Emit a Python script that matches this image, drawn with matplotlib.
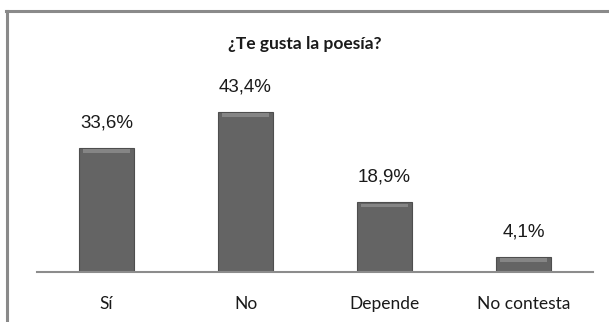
import matplotlib.pyplot as plt
from matplotlib.lines import Line2D

categorias = ["Sí", "No", "Depende", "No contesta"]
porcentajes = [33.6, 43.4, 18.9, 4.1]
etiquetas = ["33,6%", "43,4%", "18,9%", "4,1%"]

W, H = 609, 322
fig = plt.figure(figsize=(W / 100, H / 100), dpi=100)
fig.patch.set_facecolor("white")

# marco gris (solo arriba e izquierda visibles en el recorte)
fig.add_artist(Line2D([6 / W, 1], [1 - 10.5 / H] * 2, color="#8a8a8a", lw=2.2))
fig.add_artist(Line2D([7 / W] * 2, [0, 1 - 10.5 / H], color="#8a8a8a", lw=2.2))

ax = fig.add_axes([37 / W, 50 / H, 556 / W, 212 / H])
x = range(len(categorias))
ax.bar(x, porcentajes, width=0.4, color="#646464", edgecolor="#4e4e4e", lw=0.8, zorder=2)
# bisel claro en la parte superior de cada barra
ax.bar(x, [1.0] * len(x), bottom=[p - 1.4 for p in porcentajes], width=0.34,
       color="#858585", lw=0, zorder=3)

ax.set_xlim(-0.5, len(categorias) - 0.5)
ax.set_ylim(0, 212 / 3.69)
for s in ["top", "right", "left"]:
    ax.spines[s].set_visible(False)
ax.spines["bottom"].set_color("#8c8c8c")
ax.spines["bottom"].set_linewidth(1.5)
ax.set_yticks([])
ax.set_xticks(list(x))
ax.set_xticklabels(categorias, fontsize=12.5, family="Lato", color="#1a1a1a")
ax.tick_params(axis="x", length=0, pad=17)

for xi, p, t in zip(x, porcentajes, etiquetas):
    ax.annotate(t, (xi, p), xytext=(0, 12), textcoords="offset points",
                ha="center", va="bottom", fontsize=13.5, family="Liberation Sans", color="#1a1a1a")

fig.text(305 / W, 1 - 44 / H, "¿Te gusta la poesía?", ha="center", va="center",
         fontsize=12.5, fontweight="bold", family="Lato", color="#1a1a1a")

fig.savefig("out.png", dpi=100)
